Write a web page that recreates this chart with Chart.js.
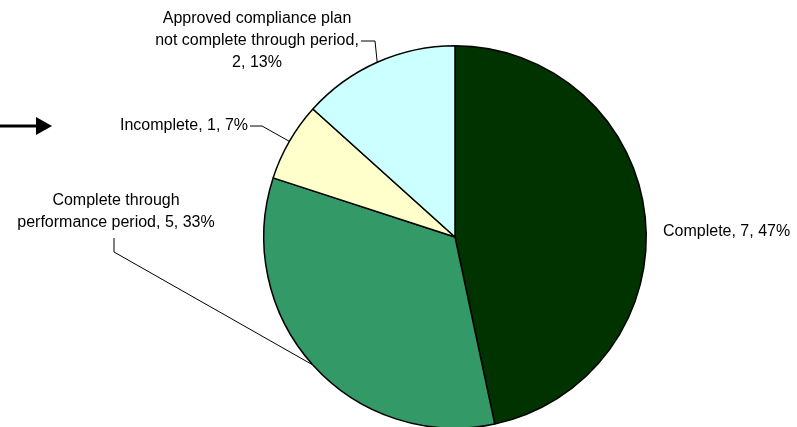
<!DOCTYPE html>
<html><head><meta charset="utf-8">
<script src="https://cdn.jsdelivr.net/npm/chart.js@4.4.0/dist/chart.umd.min.js"></script>
<style>html,body{margin:0;padding:0;background:#fff;overflow:hidden}#wrap{width:797px;height:440px}</style>
</head><body><div id="wrap"><canvas id="c" width="797" height="440"></canvas></div>
<script>
const categories = ["Complete", "Complete through performance period", "Incomplete", "Approved compliance plan not complete through period"];
const counts = [7, 5, 1, 2];
const percents = ["47%", "33%", "7%", "13%"];
const colors = ["#003300", "#339966", "#FFFFCC", "#CCFFFF"];

// label layout: lines, text anchor, and leader path (elbow points), last point is the slice edge at mid angle
const labelLayout = [
  {lines:["Complete, 7, 47%"], x:663, y:232, align:"left", leader:null},
  {lines:["Complete through","performance period, 5, 33%"], x:116, y:201, align:"center", leader:[[114,238],[114,252]]},
  {lines:["Incomplete, 1, 7%"], x:248, y:126, align:"right", leader:[[250,126],[262,126]]},
  {lines:["Approved compliance plan","not complete through period,","2, 13%"], x:257, y:19, align:"center", leader:[[361,41],[375,41]]}
];

const labelPlugin = {
  id: "pieLabels",
  afterDraw(chart) {
    const ctx = chart.ctx;
    const meta = chart.getDatasetMeta(0);
    ctx.save();
    ctx.font = "16px 'Liberation Sans', Arial, sans-serif";
    ctx.fillStyle = "#000";
    ctx.textBaseline = "middle";
    labelLayout.forEach((L, i) => {
      ctx.textAlign = L.align;
      L.lines.forEach((t, k) => ctx.fillText(t, L.x, L.y + k * 22));
      if (L.leader) {
        const arc = meta.data[i];
        const mid = (arc.startAngle + arc.endAngle) / 2;
        const ex = arc.x + Math.cos(mid) * arc.outerRadius;
        const ey = arc.y + Math.sin(mid) * arc.outerRadius;
        ctx.beginPath();
        ctx.lineWidth = 1;
        ctx.strokeStyle = "#000";
        ctx.moveTo(L.leader[0][0], L.leader[0][1]);
        for (let p = 1; p < L.leader.length; p++) ctx.lineTo(L.leader[p][0], L.leader[p][1]);
        ctx.lineTo(ex, ey);
        ctx.stroke();
      }
    });
    // arrow
    ctx.beginPath();
    ctx.lineWidth = 3;
    ctx.moveTo(0, 126); ctx.lineTo(40, 126); ctx.stroke();
    ctx.beginPath();
    ctx.moveTo(36, 117); ctx.lineTo(52, 126); ctx.lineTo(36, 135); ctx.closePath();
    ctx.fill();
    ctx.restore();
  }
};

new Chart(document.getElementById("c"), {
  type: "pie",
  data: {
    labels: categories,
    datasets: [{
      data: counts,
      backgroundColor: colors,
      borderColor: "#000",
      borderWidth: 1.5
    }]
  },
  options: {
    responsive: false,
    animation: false,
    layout: {padding: {left: 263, right: 150, top: 45, bottom: 11}},
    plugins: {legend: {display: false}, tooltip: {enabled: false}}
  },
  plugins: [labelPlugin]
});
</script></body></html>
